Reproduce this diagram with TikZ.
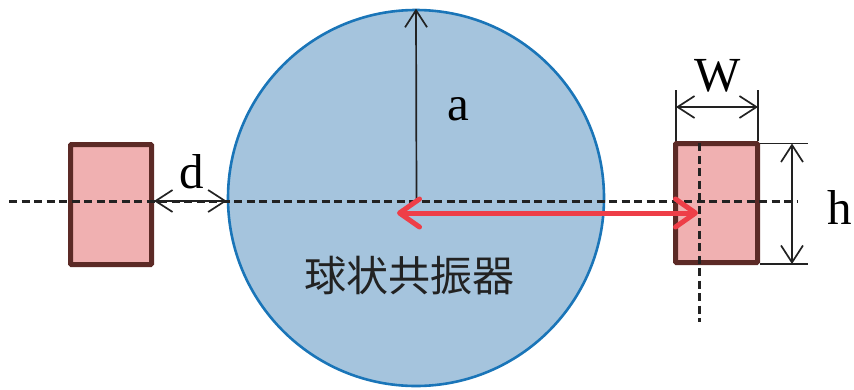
\documentclass[tikz,border=0pt]{standalone}
\usepackage{fontspec}
\newfontfamily\cjk{Noto Sans CJK JP}
\newfontfamily\lat{Liberation Serif}
\usetikzlibrary{arrows.meta}
\definecolor{resfill}{HTML}{A5C4DD}
\definecolor{resline}{HTML}{1A75B8}
\definecolor{padfill}{HTML}{F0B0B1}
\definecolor{padline}{HTML}{5C2A26}
\definecolor{redarrow}{HTML}{EE3E48}
\definecolor{ink}{HTML}{222222}
\tikzset{
  pad/.style={draw=padline, fill=padfill, line width=5pt, rounded corners=1pt, inner sep=0pt},
  axisline/.style={draw=ink, line width=3pt, dash pattern=on 8pt off 4.5pt},
  dimline/.style={draw=ink, line width=1.7pt, {Straight Barb[length=17pt,width=22pt]}-{Straight Barb[length=17pt,width=22pt]}},
  radline/.style={draw=ink, line width=1.7pt, -{Straight Barb[length=17pt,width=22pt]}},
  redline/.style={draw=redarrow, line width=5pt, line cap=round, {Straight Barb[length=20pt,width=28pt,round]}-{Straight Barb[length=20pt,width=28pt,round]}},
  extline/.style={draw=ink, line width=1.4pt},
  lbl/.style={font=\lat\fontsize{49}{52}\selectfont, text=black, inner sep=0pt},
}
\begin{document}
\begin{tikzpicture}[x=1pt,y=-1pt]
\useasboundingbox (0,0) rectangle (854,389);
% resonator
\node[circle, draw=resline, fill=resfill, line width=2.6pt, minimum size=376pt, inner sep=0pt] (res) at (416,198) {};
% pads
\node[pad, minimum width=81pt, minimum height=120pt] (lpad) at (111,204.5) {};
\node[pad, minimum width=82pt, minimum height=119pt] (rpad) at (716.5,203) {};
% axis coordinates
\coordinate (axL) at (9,201);
\coordinate (axR) at (797,201);
\coordinate (ctr) at (416.5,201);
\coordinate (vtop) at (699,143);
\coordinate (vbot) at (699,322);
\draw[axisline] (axL) -- (axR);
\draw[axisline] (vtop) -- (vbot);
% radius a
\draw[radline] (ctr) -- (res.north);
\node[lbl] (a) at (458,109) {a};
% gap d
\coordinate (dL) at (lpad.east |- ctr);
\coordinate (dR) at (res.west |- ctr);
\draw[dimline] (dL) -- (dR);
\node[lbl] (d) at (192,172) {d};
% width W
\coordinate (wL0) at (676,141);
\coordinate (wL1) at (676,90);
\coordinate (wR0) at (758,141);
\coordinate (wR1) at (758,90);
\draw[extline] (wL0) -- (wL1);
\draw[extline] (wR0) -- (wR1);
\coordinate (wA) at (676,107);
\coordinate (wB) at (758,107);
\draw[dimline] (wA) -- (wB);
\node[lbl] (W) at (718,76) {W};
% height h
\coordinate (hT0) at (760,143.5);
\coordinate (hT1) at (808,143.5);
\coordinate (hB0) at (760,264);
\coordinate (hB1) at (808,264);
\draw[extline] (hT0) -- (hT1);
\draw[extline] (hB0) -- (hB1);
\coordinate (hA) at (792,143.5);
\coordinate (hB) at (792,264);
\draw[dimline] (hA) -- (hB);
\node[lbl] (h) at (840,207) {h};
% red arrow
\coordinate (rL) at (397,213);
\coordinate (rR) at (698,213);
\draw[redline] (rL) -- (rR);
% label
\node[font=\cjk\fontsize{42}{46}\selectfont, inner sep=0pt, text=ink] (name) at (409.5,276) {球状共振器};
\end{tikzpicture}
\end{document}
